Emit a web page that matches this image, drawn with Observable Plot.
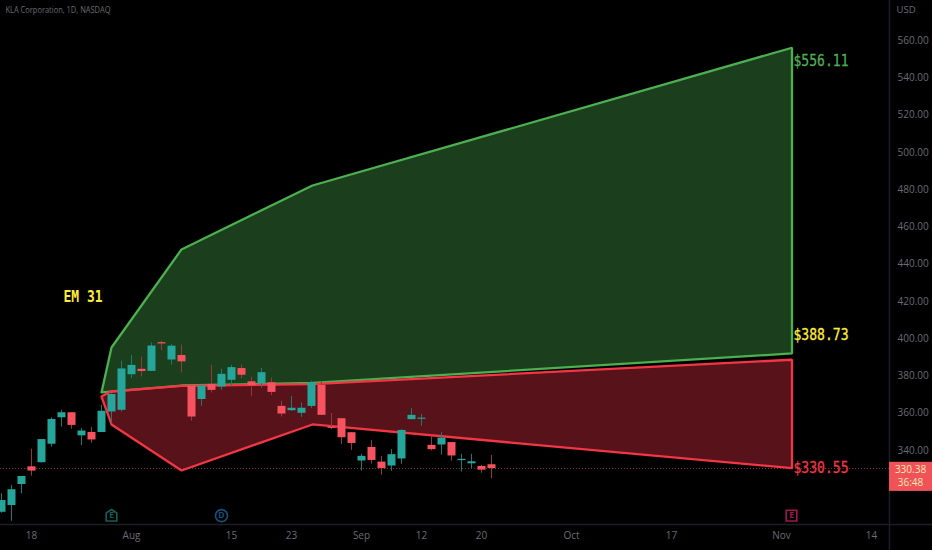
<!DOCTYPE html>
<html>
<head>
<meta charset="utf-8">
<script src="https://cdn.jsdelivr.net/npm/d3@7"></script>
<script src="https://cdn.jsdelivr.net/npm/@observablehq/plot@0.6"></script>
<style>
html,body{margin:0;padding:0;background:#000;overflow:hidden}
svg{display:block}
</style>
</head>
<body>
<div id="chart"></div>
<script>
// Candles, indexed by trading day (0 = Jul 18)
const barIndex = [-3,-2,-1,0,1,2,3,4,5,6,7,8,9,10,11,12,13,14,15,16,17,18,19,20,21,22,23,24,25,26,27,28,29,30,31,32,33,34,35,36,37,38,39,40,41,42,43,44,45,46];
const opens = [306.9,310.5,321.8,331.3,333.5,343.4,357.6,360.3,347.9,349.7,349.7,360.7,361.6,380.7,383.6,382.5,397.9,388.6,391,374.6,367.4,375.5,374.1,377.7,384,376.9,375.9,376.4,363.7,361.4,360,363.7,375,352.5,357.1,349.6,334.4,341.7,333.8,331.7,335.5,356.6,356.8,342.8,343,344.3,334.6,332.9,331.5,332.4];
const closes = [313.2,319,326.1,329,345.9,356.7,360.3,353.5,350.5,345.7,361.1,370.1,383.8,385.7,382.4,396.1,397.2,396,387.6,358,374.6,372.3,380.9,384.5,380.4,374.8,381.8,371.2,359.6,362.7,362.7,376.4,358.9,351.9,346.9,343.8,336.9,334.7,330.3,337.8,350.8,358.9,357.4,340.5,346.7,337.1,335.3,334,329.5,330.38];
const highs = [316.8,321.3,326.1,340.7,345.9,357.6,361.6,360.3,351.7,352.3,364.3,370.5,388,391,390.1,397.7,398.8,397,396.6,374.6,374.6,385.7,383.6,385.7,385.9,379.4,384.1,378.9,366.4,369,365.5,377.3,376.8,359.9,357.1,349.6,338,345.5,336.9,340.5,351.2,362.5,359.4,347.7,349.6,344.3,338,338,332.1,337.3];
const lows = [306.4,302.1,316.8,326.3,333.3,341.9,352.6,351.5,342.7,344,349.7,354.5,360.6,378.6,379.5,382.5,393.6,385.8,381.6,355.8,363.8,370.9,372.4,374.2,378.4,369.1,373.6,369.5,358,361,357.8,362.7,358.9,351.3,343.3,340.1,329,332.8,326.8,328.8,332.6,356.6,353.1,339.8,337.6,334.4,328.5,330.3,327.9,324.9];

// Expected-move polygons
const greenX = [7,8,15,28.1,76.05,76.05,28.1,15,7];
const greenY = [371.2,395.3,447.9,482.2,556.11,392.1,376.3,374.9,371.2];
const redX = [7,7.9,15,28.1,76.05,76.05,28.1,15,8,7];
const redY = [369,371.7,374.7,375.7,388.73,330.55,354,329.3,354,369];

// Axes
const priceTicks = [320,340,360,380,400,420,440,460,480,500,520,540,560];
const timeTicks = [0,10,20,26,33,39,45,54,64,75,84];
const timeLabels = ["18","Aug","15","23","Sep","12","20","Oct","17","Nov","14"];

// Labels
const levelText = ["$556.11","$388.73","$330.55"];
const levelY = [549.3,402.3,330.9];
const levelColor = ["#4caf50","#ffeb3b","#f23645"];
const lastPrice = 330.38;
const countdown = "36:48";
const eventX = [8,19,76];
const eventText = ["E","D","E"];
const eventColor = ["#115f58","#14507e","#a3174f"];

const xEnd = 85.8, xFar = 90.1, yTop = 581.46, yBot = 300.34, yFar = 286.4;
const UP = "#26a69a", DOWN = "#f7525f";
const isUp = i => closes[i] >= opens[i];
const idx = barIndex.map((_, i) => i);
const house = {draw(c, size){
  const r = Math.sqrt(size) / 2;
  c.moveTo(-r, -r * 0.5); c.lineTo(0, -r * 1.15); c.lineTo(r, -r * 0.5);
  c.lineTo(r, r); c.lineTo(-r, r); c.closePath();
}};
const font = "'Open Sans', sans-serif";
const mono = "'DejaVu Sans Mono', monospace";

const chart = Plot.plot({
  width: 932, height: 550,
  marginLeft: 0, marginRight: 43, marginTop: 0, marginBottom: 26,
  style: {background: "#000", fontFamily: font},
  x: {type: "linear", domain: [barIndex[0] - 0.1, xEnd], range: [0, 889]},
  y: {type: "linear", domain: [yBot, yTop]},
  marks: [
    Plot.ruleY([lastPrice], {x1: barIndex[0] - 0.1, x2: xEnd, stroke: "#8a2a2e", strokeWidth: 1, strokeDasharray: "1,2"}),
    Plot.line(greenX.map((x, i) => [x, greenY[i]]), {x: d => d[0], y: d => d[1], fill: "#4caf50", fillOpacity: 0.36, stroke: "#4caf50", strokeWidth: 2.3, strokeLinejoin: "miter"}),
    Plot.line(redX.map((x, i) => [x, redY[i]]), {x: d => d[0], y: d => d[1], fill: "#f23645", fillOpacity: 0.36, stroke: "#f23645", strokeWidth: 2.3, strokeLinejoin: "miter"}),
    Plot.ruleX(idx, {x: i => barIndex[i], y1: i => lows[i], y2: i => highs[i], stroke: i => isUp(i) ? "#1d7a70" : "#94383e", strokeWidth: 1}),
    Plot.ruleX(idx, {x: i => barIndex[i], y1: i => opens[i], y2: i => closes[i], stroke: i => isUp(i) ? UP : DOWN, strokeWidth: 8}),
    Plot.ruleY([yBot], {x1: barIndex[0] - 0.1, x2: xFar, stroke: "#1d1f26", strokeWidth: 1.5}),
    Plot.ruleX([xEnd], {y1: yFar, y2: yTop, stroke: "#1d1f26", strokeWidth: 1.5}),
    Plot.axisX({ticks: timeTicks, tickFormat: d => timeLabels[timeTicks.indexOf(d)], tickSize: 0, tickPadding: 7, stroke: "none", fill: "#6a6c72", fontSize: 10, label: null}),
    Plot.axisY({anchor: "right", ticks: priceTicks, tickFormat: d => d.toFixed(2), tickSize: 0, tickPadding: 8, fill: "#6a6c72", fontSize: 10, label: null}),
    Plot.text(["KLA Corporation, 1D, NASDAQ"], {frameAnchor: "top-left", dx: 5, dy: 6, fill: "#6a6c72", fontSize: 9.5, textAnchor: "start", className: "squeeze-title"}),
    Plot.text(["USD"], {frameAnchor: "top-right", dx: 7, dy: 6, fill: "#6a6c72", fontSize: 9.5, textAnchor: "start"}),
    Plot.text(["EM 31"], {x: 3.2, y: 422.7, fill: "#ffeb3b", fontFamily: mono, fontSize: 16, fontWeight: "bold", textAnchor: "start", lineAnchor: "middle", className: "squeeze-em"}),
    Plot.text(levelText, {x: 76.2, y: (d, i) => levelY[i], fill: (d, i) => levelColor[i], fontFamily: mono, fontSize: 16, textAnchor: "start", lineAnchor: "middle", stroke: (d, i) => levelColor[i], strokeWidth: 0.3, className: "squeeze-level"}),
    Plot.dot(eventX, {x: d => d, y: 305.1, symbol: (d, i) => eventText[i] === "D" ? "circle" : d > 50 ? "square" : house, r: 6, stroke: (d, i) => eventColor[i], strokeWidth: 1.6, fill: "#000"}),
    Plot.text(eventX, {x: d => d, y: 305.1, text: (d, i) => eventText[i], fill: (d, i) => eventColor[i], fontSize: 8.5, fontWeight: "bold", lineAnchor: "middle"}),
    Plot.rect([0], {x1: xEnd, x2: xFar, y1: 318.1, y2: 333.7, fill: "#f0525a"}),
    Plot.text([lastPrice.toFixed(2)], {x: 87.9, y: 329.6, fill: "#ffe9b0", fontSize: 10, lineAnchor: "middle"}),
    Plot.text([countdown], {x: 87.9, y: 322.7, fill: "#ffe9b0", fontSize: 10, lineAnchor: "middle"})
  ]
});
const squeeze = (cls, len) => chart.querySelectorAll("." + cls + " text, text." + cls).forEach(t => {
  t.setAttribute("textLength", len);
  t.setAttribute("lengthAdjust", "spacingAndGlyphs");
});
squeeze("squeeze-title", 105);
squeeze("squeeze-em", 39);
squeeze("squeeze-level", 55);
document.getElementById("chart").append(chart);
</script>
</body>
</html>
